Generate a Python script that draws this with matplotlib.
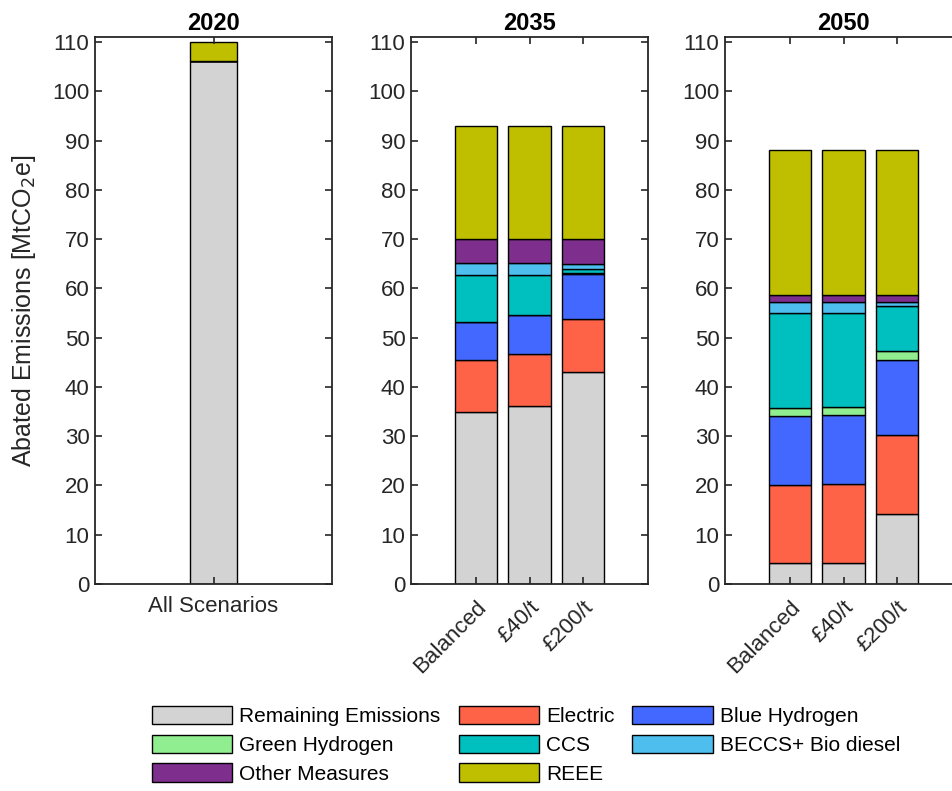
import numpy as np
import matplotlib.pyplot as plt
from matplotlib.patches import Patch

plt.rcParams['font.family'] = ['Liberation Sans', 'DejaVu Sans']

measures = ['Remaining Emissions', 'Electric', 'Blue Hydrogen', 'Green Hydrogen',
            'CCS', 'BECCS+ Bio diesel', 'Other Measures', 'REEE']
colors = ['#d3d3d3', '#ff6347', '#4268ff', '#90ee90',
          '#00bfbf', '#4dbeee', '#7e2f8e', '#bfbf00']

years = ['2020', '2035', '2050']
scenarios_2020 = ['All Scenarios']
scenarios = ['Balanced', '£40/t', '£200/t']

# abated emissions per measure (MtCO2e), one row per measure, one column per scenario
data_2020 = np.array([
    [106.1],
    [0.0],
    [0.0],
    [0.0],
    [0.0],
    [0.0],
    [0.0],
    [3.9],
])
data_2035 = np.array([
    [35.0, 36.2, 43.1],
    [10.5, 10.5, 10.7],
    [7.7, 7.8, 9.2],
    [0.0, 0.0, 0.2],
    [9.6, 8.3, 0.7],
    [2.4, 2.4, 1.0],
    [4.8, 4.8, 5.1],
    [23.0, 23.0, 23.0],
])
data_2050 = np.array([
    [4.2, 4.3, 14.2],
    [15.9, 16.0, 16.0],
    [14.0, 13.9, 15.3],
    [1.7, 1.7, 1.8],
    [19.1, 19.0, 9.2],
    [2.3, 2.3, 0.7],
    [1.5, 1.5, 1.5],
    [29.4, 29.4, 29.4],
])

fig = plt.figure(figsize=(9.53, 7.91), dpi=100)
lefts = [0.0997, 0.4313, 0.7608]
panels = [(data_2020, scenarios_2020), (data_2035, scenarios), (data_2050, scenarios)]

axc = '#262626'
for i, (year, (vals, labels)) in enumerate(zip(years, panels)):
    ax = fig.add_axes([lefts[i], 0.2617, 0.2487, 0.6915])
    x = np.arange(len(labels))
    bottom = np.zeros(len(labels))
    for row, c in zip(vals, colors):
        ax.bar(x, row, 0.8, bottom=bottom, color=c, edgecolor='black', linewidth=1.0)
        bottom += row
    if len(labels) == 1:
        ax.set_xlim(-2, 2)
        ax.set_xticks(x)
        ax.set_xticklabels(labels, fontsize=16)
    else:
        ax.set_xlim(-1.215, 3.215)
        ax.set_xticks(x)
        ax.set_xticklabels(labels, fontsize=16, rotation=45, ha='right',
                           rotation_mode='anchor')
    ax.set_ylim(0, 111)
    ax.set_yticks(np.arange(0, 111, 10))
    ax.tick_params(direction='in', top=True, right=True, labelsize=16,
                   color=axc, labelcolor=axc, width=1.2, length=5, pad=4)
    ax.tick_params(axis='x', pad=9)
    for s in ax.spines.values():
        s.set_color(axc)
        s.set_linewidth(1.3)
    ax.set_title(year, fontsize=17, fontweight='bold', pad=5)
    if i == 0:
        ax.set_ylabel('Abated Emissions [MtCO$_2$e]', fontsize=18, color=axc,
                      labelpad=10)

# legend laid out row by row: three per row
order = [0, 3, 6, 1, 4, 7, 2, 5]
handles = [Patch(facecolor=colors[k], edgecolor='black', linewidth=1.0) for k in order]
fig.legend(handles, [measures[k] for k in order], ncol=3, frameon=False,
           loc='upper left', bbox_to_anchor=(0.1507, 0.118),
           fontsize=15, handlelength=3.85, handleheight=0.96, labelspacing=0.41,
           handletextpad=0.34, columnspacing=0.87, borderaxespad=0)

fig.savefig('out.png', dpi=100)
